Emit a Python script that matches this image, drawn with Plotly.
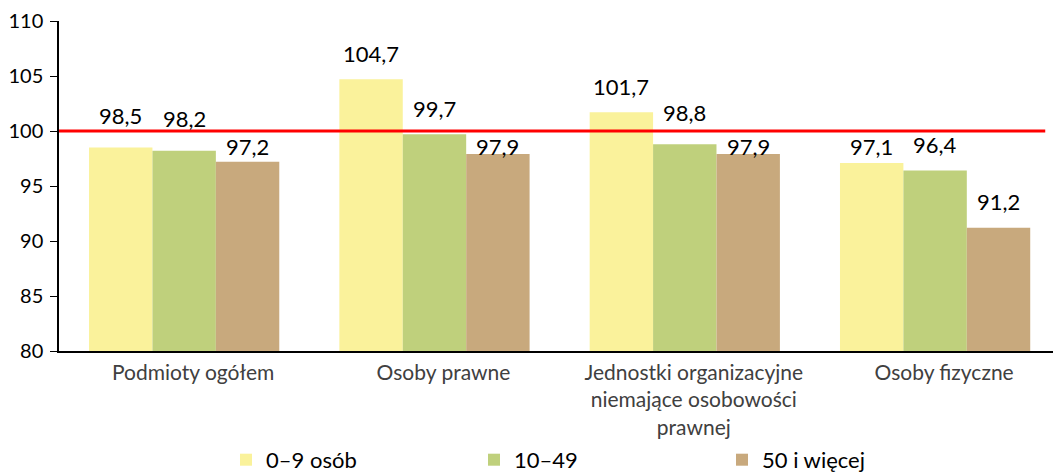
import plotly.graph_objects as go

categories = ["Podmioty ogółem", "Osoby prawne",
              "Jednostki organizacyjne<br>niemające osobowości<br>prawnej",
              "Osoby fizyczne"]
series_names = ["0–9 osób", "10–49", "50 i więcej"]
values_small = [98.5, 104.7, 101.7, 97.1]
values_medium = [98.2, 99.7, 98.8, 96.4]
values_large = [97.2, 97.9, 97.9, 91.2]
reference_value = 100
y_ticks = [80, 85, 90, 95, 100, 105, 110]

colors = ["#FAF29B", "#BFD07C", "#C8A97D"]
series_values = [values_small, values_medium, values_large]

FONT = "Lato, 'DejaVu Sans', sans-serif"
x_pos = list(range(len(categories)))
bargap = 0.24
bar_w = (1 - bargap) / len(series_values)

fig = go.Figure()
for name, vals, col in zip(series_names, series_values, colors):
    fig.add_trace(go.Bar(
        x=x_pos, y=vals, name=name,
        marker=dict(color=col, line=dict(width=0)),
        hoverinfo="x+y",
    ))

# value labels (moved off the reference line when they would cross it)
annotations = []
for j, vals in enumerate(series_values):
    off = (j - (len(series_values) - 1) / 2) * bar_w
    for i, v in enumerate(vals):
        label = f"{v:.1f}".replace(".", ",")
        if reference_value - 3 <= v < reference_value - 2:
            y, ys = reference_value - 1.45, 0
        elif reference_value - 2 <= v < reference_value - 1:
            y, ys = v, 32
        else:
            y, ys = v, 26
        annotations.append(dict(
            x=i + off, y=y, xref="x", yref="y", text=label, showarrow=False,
            yanchor="middle", xanchor="center", yshift=ys,
            font=dict(family=FONT, size=22, color="#000000"),
        ))

fig.add_shape(type="line", xref="x", yref="y",
              x0=-0.5, x1=3.44, y0=reference_value, y1=reference_value,
              line=dict(color="#FF0000", width=3))

fig.update_layout(
    width=1053, height=472,
    margin=dict(l=59, r=0, t=21, b=121, autoexpand=False),
    paper_bgcolor="white", plot_bgcolor="white",
    barmode="group", bargap=bargap, bargroupgap=0,
    font=dict(family=FONT, size=21, color="#000000"),
    annotations=annotations,
    showlegend=True,
    legend=dict(orientation="h", x=0.168, xanchor="left",
                y=-0.33, yanchor="middle", bgcolor="rgba(0,0,0,0)",
                entrywidth=203, entrywidthmode="pixels",
                font=dict(family=FONT, size=22, color="#000000"),
                itemclick=False, itemdoubleclick=False),
    xaxis=dict(
        range=[-0.5, 3.471], tickmode="array", tickvals=x_pos, ticktext=categories,
        showline=True, linecolor="#000000", linewidth=1.5, ticks="",
        showgrid=False, zeroline=False, ticklabelstandoff=2, ticklabelshift=9,
        tickfont=dict(family=FONT, size=21, color="#404040"),
    ),
    yaxis=dict(
        range=[80, 110], tickmode="array", tickvals=y_ticks,
        showline=True, linecolor="#000000", linewidth=1.5,
        ticks="outside", ticklen=7, tickcolor="#000000", tickwidth=1,
        showgrid=False, zeroline=False, ticklabelstandoff=3,
        tickfont=dict(family=FONT, size=20, color="#000000"),
    ),
)

fig.write_html("out.html", config={"displayModeBar": False},
               post_script="document.body.style.margin='0px';")
